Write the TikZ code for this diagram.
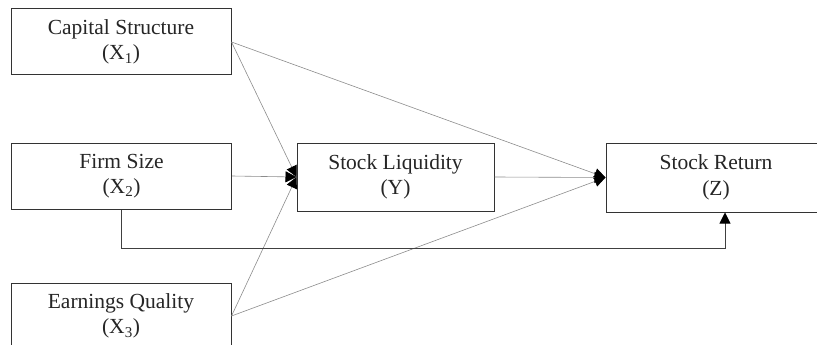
\documentclass[tikz,border=0pt]{standalone}
\usepackage{fontspec}
\setmainfont{Liberation Serif}
\usetikzlibrary{arrows.meta}
\begin{document}
\begin{tikzpicture}[x=1pt,y=-1pt,
  box/.style={draw=black!80, line width=1pt, fill=white, minimum width=220pt, minimum height=66pt,
    align=center, font=\fontsize{21.5}{25.5}\selectfont, text=black!85, inner sep=0pt},
  conn/.style={draw=black!45, line width=0.6pt, -{Triangle[length=11pt,width=11pt,color=black]}},
  elbowline/.style={draw=black!75, line width=0.9pt, -{Triangle[length=11pt,width=11pt,color=black]}}
]
\useasboundingbox (0,0) rectangle (817,345);
\node[box] (x1) at (121,42) {Capital Structure\\(X\textsubscript{1})};
\node[box] (x2) at (121.5,176) {Firm Size\\(X\textsubscript{2})};
\node[box] (x3) at (121,316) {Earnings Quality\\(X\textsubscript{3})};
\node[box, minimum width=197pt, minimum height=68pt] (y) at (395.5,177) {Stock Liquidity\\(Y)};
\node[box, minimum height=69pt] (z) at (716,177.5) {Stock Return\\(Z)};
\coordinate (elbow) at (725,248);
\draw[conn] (x1.east) -- (y.west);
\draw[conn] (x1.east) -- (z.west);
\draw[conn] (x2.east) -- (y.west);
\draw[conn] (x3.east) -- (y.west);
\draw[conn] (x3.east) -- (z.west);
\draw[conn] (y.east) -- (z.west);
\draw[elbowline] (x2.south) |- (elbow) -- (elbow |- z.south);
\end{tikzpicture}
\end{document}
